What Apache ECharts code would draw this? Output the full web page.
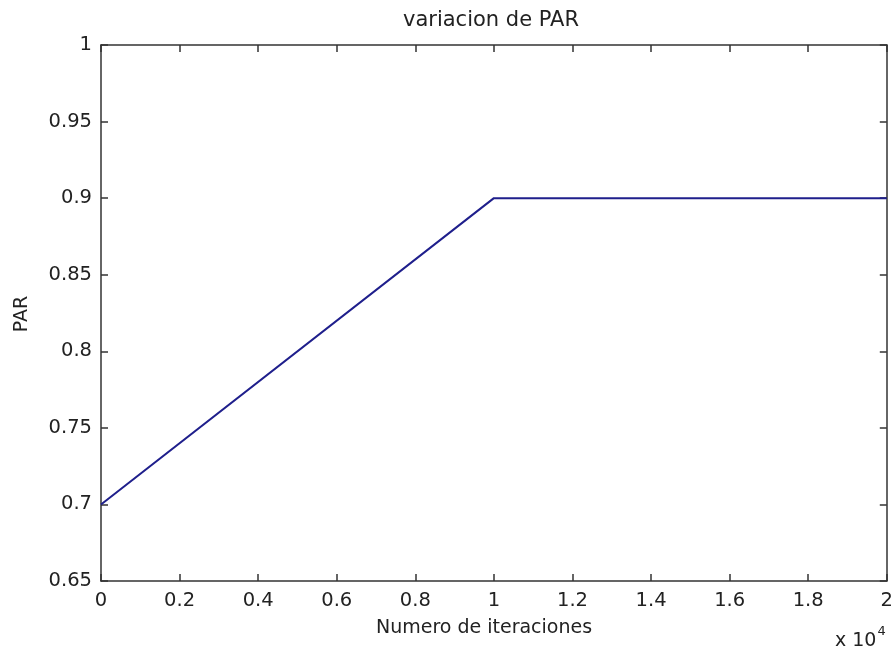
<!DOCTYPE html>
<html>
<head>
<meta charset="utf-8">
<script src="https://cdn.jsdelivr.net/npm/echarts@6/dist/echarts.min.js"></script>
<style>
html,body{margin:0;padding:0;background:#fff;}
#main{width:896px;height:650px;}
</style>
</head>
<body>
<div id="main"></div>
<script>
// Data
const iterations = [0, 10000, 20000];
const parValues = [0.7, 0.9, 0.9];
const xTicks = [0, 0.2, 0.4, 0.6, 0.8, 1, 1.2, 1.4, 1.6, 1.8, 2];
const yTicks = [0.65, 0.7, 0.75, 0.8, 0.85, 0.9, 0.95, 1];
const titleText = 'variacion de PAR';
const xLabel = 'Numero de iteraciones';
const yLabel = 'PAR';

const FONT = 'DejaVu Sans';
const TXT = '#222';
const AX = '#333';

const chart = echarts.init(document.getElementById('main'), null, {renderer: 'canvas'});

const axisCommonX = {
  type: 'value',
  min: 0,
  max: 20000,
  interval: 2000,
  axisLine: {show: true, onZero: false, lineStyle: {color: AX, width: 1.5}},
  axisTick: {show: true, inside: true, length: 7, lineStyle: {color: AX, width: 1.5}},
  splitLine: {show: false}
};
const axisCommonY = {
  type: 'value',
  min: 0.65,
  max: 1,
  interval: 0.05,
  axisLine: {show: true, onZero: false, lineStyle: {color: AX, width: 1.5}},
  axisTick: {show: true, inside: true, length: 7, lineStyle: {color: AX, width: 1.5}},
  splitLine: {show: false}
};

chart.setOption({
  animation: false,
  backgroundColor: '#fff',
  grid: {left: 101, right: 7, top: 45, bottom: 69, containLabel: false},
  xAxis: [
    Object.assign({}, axisCommonX, {
      position: 'bottom',
      axisLabel: {
        show: true, color: TXT, fontFamily: FONT, fontSize: 19.5, margin: 10,
        formatter: function (v) {
          const t = v / 10000;
          const idx = Math.round(t * 5);
          return String(xTicks[idx]);
        }
      }
    }),
    Object.assign({}, axisCommonX, {position: 'top', axisLabel: {show: false}})
  ],
  yAxis: [
    Object.assign({}, axisCommonY, {
      position: 'left',
      axisLabel: {
        show: true, color: TXT, fontFamily: FONT, fontSize: 19.5, margin: 9,
        formatter: function (v) {
          const idx = Math.round((v - 0.65) / 0.05);
          return String(yTicks[idx]);
        }
      }
    }),
    Object.assign({}, axisCommonY, {position: 'right', axisLabel: {show: false}})
  ],
  series: [{
    type: 'line',
    xAxisIndex: 0,
    yAxisIndex: 0,
    data: iterations.map((x, i) => [x, parValues[i]]),
    showSymbol: false,
    symbol: 'none',
    lineStyle: {color: '#1f1f8c', width: 2},
    clip: true
  }],
  graphic: [
    {
      type: 'text', x: 491, y: 21,
      style: {text: titleText, font: '21px "DejaVu Sans"', fill: TXT, textAlign: 'center', textVerticalAlign: 'middle'}
    },
    {
      type: 'text', x: 484, y: 628,
      style: {text: xLabel, font: '19px "DejaVu Sans"', fill: TXT, textAlign: 'center', textVerticalAlign: 'middle'}
    },
    {
      type: 'text', x: 22, y: 314, rotation: Math.PI / 2,
      style: {text: yLabel, font: '19px "DejaVu Sans"', fill: TXT, textAlign: 'center', textVerticalAlign: 'middle'}
    },
    {
      type: 'text', x: 835, y: 638,
      style: {
        text: '{a|x 10}{b|4}',
        rich: {
          a: {fontFamily: FONT, fontSize: 19, fill: TXT, color: TXT, verticalAlign: 'bottom'},
          b: {fontFamily: FONT, fontSize: 13, fill: TXT, color: TXT, verticalAlign: 'top', padding: [0, 0, 12, 1]}
        },
        textAlign: 'left', textVerticalAlign: 'middle'
      }
    }
  ]
});
</script>
</body>
</html>
